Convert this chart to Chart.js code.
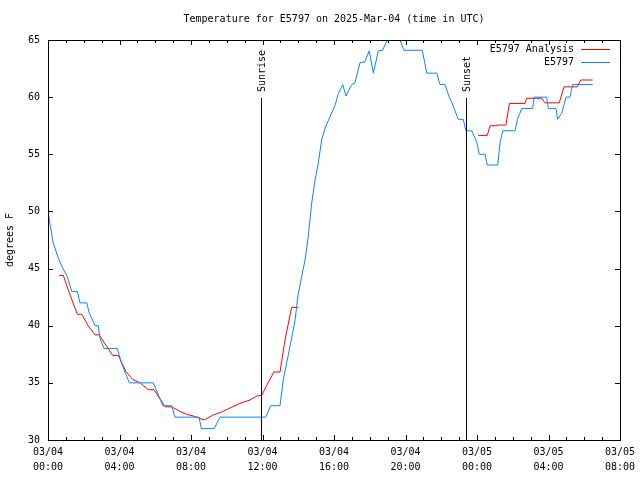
<!DOCTYPE html>
<html><head><meta charset="utf-8">
<script src="https://cdn.jsdelivr.net/npm/chart.js@4"></script>
<style>html,body{margin:0;padding:0;background:#fff}#wrap{width:640px;height:480px}</style>
</head><body><div id="wrap"><canvas id="c" width="640" height="480"></canvas></div>
<script>
const titleText = 'Temperature for E5797 on 2025-Mar-04 (time in UTC)';
const yAxisTitle = 'degrees F';
const seriesNames = ['E5797 Analysis', 'E5797'];
const xTickHours = [0, 4, 8, 12, 16, 20, 24, 28, 32];
const xTickLabels = [['03/04','00:00'],['03/04','04:00'],['03/04','08:00'],['03/04','12:00'],['03/04','16:00'],['03/04','20:00'],['03/05','00:00'],['03/05','04:00'],['03/05','08:00']];
const yTicks = [30, 35, 40, 45, 50, 55, 60, 65];
const eventNames = ['Sunrise', 'Sunset'];
const eventHours = [11.94, 23.38];

// E5797 observations (hours since 03/04 00:00 UTC, deg F)
const obsHours = [0,0.28,0.56,0.77,1.05,1.33,1.64,1.79,2.17,2.31,2.63,2.81,2.91,3.13,3.88,4.12,4.55,5.89,6.30,6.42,6.92,7.10,8.45,8.58,9.30,9.62,12.18,12.46,12.98,13.16,13.63,13.82,14.00,14.19,14.38,14.56,14.75,14.94,15.12,15.31,15.50,15.78,16.06,16.24,16.49,16.67,16.99,17.17,17.45,17.73,17.97,18.20,18.48,18.72,18.98,19.30,19.69,19.92,20.94,21.19,21.75,21.93,22.21,22.45,22.58,22.95,23.23,23.38,23.70,23.98,24.13,24.45,24.57,25.16,25.29,25.44,26.13,26.26,26.50,27.12,27.19,27.90,27.99,28.42,28.51,28.74,28.98,29.20,29.35,30.47];
const obsTemps = [50,47.3,46,45.2,44.4,43,43,42,42,41.1,40,40,38.9,38,38,36.7,35,35,33.5,33,33,32,32,31,31,32,32,33,33,35.25,38.9,40.5,42.8,44.3,45.75,47.8,50.7,52.75,54.2,56.25,57.3,58.3,59.3,60.3,61.1,60.1,61.1,61.25,63,63.1,64.05,62.1,64.05,64.1,65,65.8,65,64.1,64.1,62.1,62.1,61.1,61.1,60,59.6,58.06,58.06,57.06,57.06,56.1,55,55,54.06,54.06,56,57.06,57.06,58.06,59,59,60,60,59,59,58.06,58.6,60,60,61.1,61.1];

// E5797 Analysis (null = no analysis)
const anaHours = [0.63,0.86,1.14,1.64,1.89,2.25,2.63,2.87,3.28,3.62,3.93,4.36,4.74,5.15,5.61,5.93,6.55,6.92,7.38,7.76,8.13,8.74,9.25,9.72,10.18,10.74,11.30,11.68,11.96,12.24,12.64,12.98,13.26,13.63,14.00,19.00,24.07,24.58,24.73,25.06,25.19,25.62,25.81,26.69,26.78,27.62,27.80,28.60,28.87,29.61,29.80,30.47];
const anaTemps = [44.4,44.4,43.1,41,41,40,39.2,39.2,38.2,37.4,37.4,36,35.3,35,34.4,34.4,32.9,32.9,32.5,32.25,32.1,31.75,32.2,32.45,32.8,33.2,33.5,33.85,33.9,34.8,35.95,35.95,38.75,41.6,41.6,null,56.65,56.65,57.5,57.5,57.56,57.56,59.45,59.45,59.9,59.9,59.5,59.5,60.9,60.9,61.5,61.5];

const colors = ['#ff0000', '#0a84ff'];
const FONT = 'DejaVu Sans Mono';

const pts = (xs, ys) => xs.map((x, i) => ({x: x, y: ys[i]}));

const decorPlugin = {
  id: 'decor',
  afterDatasetsDraw(chart) {
    const ctx = chart.ctx, a = chart.chartArea;
    const xs = chart.scales.x, ys = chart.scales.y;
    ctx.save();
    ctx.strokeStyle = '#000';
    ctx.lineWidth = 1;
    ctx.font = '10px "' + FONT + '"';
    ctx.fillStyle = '#000';
    // title centred over the plot area
    ctx.textAlign = 'center';
    ctx.textBaseline = 'middle';
    ctx.fillText(titleText, (a.left + a.right) / 2, a.top - 21);
    // event lines + labels
    eventNames.forEach((name, i) => {
      const px = Math.round(xs.getPixelForValue(eventHours[i])) + 0.5;
      ctx.beginPath();
      ctx.moveTo(px, a.top + 58);
      ctx.lineTo(px, a.bottom);
      ctx.stroke();
      ctx.save();
      ctx.translate(px + 1, a.top + 52);
      ctx.rotate(-Math.PI / 2);
      ctx.textAlign = 'left';
      ctx.textBaseline = 'middle';
      ctx.fillText(name, 0, 0);
      ctx.restore();
    });
    // border
    ctx.strokeRect(Math.round(a.left) + 0.5, Math.round(a.top) + 0.5, Math.round(a.right - a.left), Math.round(a.bottom - a.top));
    // x ticks (major + minor)
    for (let h = xs.min; h <= xs.max; h++) {
      const px = Math.round(xs.getPixelForValue(h)) + 0.5;
      const len = (h % 4 === 0) ? 5 : 3;
      ctx.beginPath();
      ctx.moveTo(px, a.bottom); ctx.lineTo(px, a.bottom - len);
      ctx.moveTo(px, a.top); ctx.lineTo(px, a.top + len);
      ctx.stroke();
    }
    yTicks.forEach(v => {
      const py = Math.round(ys.getPixelForValue(v)) + 0.5;
      ctx.beginPath();
      ctx.moveTo(a.left, py); ctx.lineTo(a.left + 5, py);
      ctx.moveTo(a.right, py); ctx.lineTo(a.right - 5, py);
      ctx.stroke();
    });
    // legend
    seriesNames.forEach((name, i) => {
      const y = a.top + 9 + i * 13;
      ctx.textAlign = 'right';
      ctx.textBaseline = 'middle';
      ctx.fillStyle = '#000';
      ctx.fillText(name, a.right - 46, y);
      ctx.strokeStyle = colors[i];
      ctx.beginPath();
      ctx.moveTo(a.right - 39, Math.round(y) + 0.5);
      ctx.lineTo(a.right - 10, Math.round(y) + 0.5);
      ctx.stroke();
    });
    ctx.restore();
  }
};

new Chart(document.getElementById('c'), {
  type: 'line',
  data: {
    datasets: [
      {label: seriesNames[0], data: pts(anaHours, anaTemps), borderColor: colors[0], borderWidth: 1, pointRadius: 0, tension: 0, spanGaps: false, order: 1},
      {label: seriesNames[1], data: pts(obsHours, obsTemps), borderColor: colors[1], borderWidth: 1, pointRadius: 0, tension: 0, order: 0}
    ]
  },
  options: {
    responsive: false,
    animation: false,
    devicePixelRatio: 1,
    layout: {padding: {top: 40, right: 20, bottom: 0, left: 0}},
    plugins: {
      legend: {display: false},
      tooltip: {enabled: false},
      title: {display: false}
    },
    scales: {
      x: {
        type: 'linear', min: 0, max: 32,
        afterBuildTicks: s => { s.ticks = xTickHours.map(v => ({value: v})); },
        afterFit: s => { s.height = 40; },
        ticks: {
          autoSkip: false, maxRotation: 0, minRotation: 0, padding: 4.5, color: '#000',
          font: {family: FONT, size: 10, lineHeight: '15px'},
          callback: v => { const i = xTickHours.indexOf(v); return i >= 0 ? xTickLabels[i] : ''; }
        },
        grid: {display: false, drawTicks: false},
        border: {display: false}
      },
      y: {
        min: 30, max: 65,
        afterBuildTicks: s => { s.ticks = yTicks.map(v => ({value: v})); },
        afterFit: s => { s.width = 48; },
        ticks: {padding: 8, color: '#000', font: {family: FONT, size: 10}},
        grid: {display: false, drawTicks: false},
        border: {display: false},
        title: {display: true, text: yAxisTitle, color: '#000', font: {family: FONT, size: 10}, padding: {top: 4, bottom: 0}}
      }
    }
  },
  plugins: [decorPlugin]
});
</script>
</body></html>
